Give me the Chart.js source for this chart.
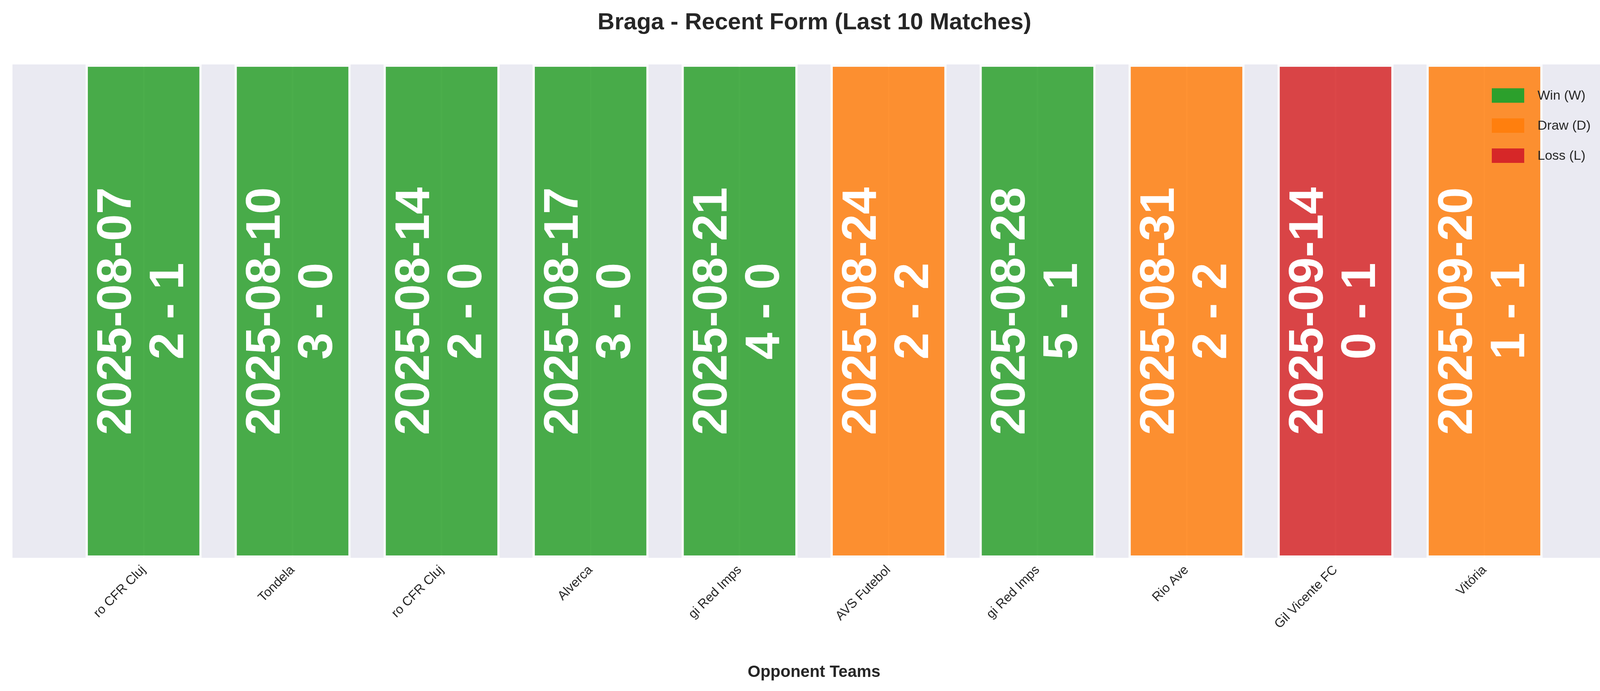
<!DOCTYPE html>
<html>
<head>
<meta charset="utf-8">
<script src="https://cdn.jsdelivr.net/npm/chart.js@4.4.0/dist/chart.umd.min.js"></script>
<style>
  body { margin: 0; background: #fff; }
</style>
</head>
<body>
<canvas id="chart" width="4170" height="1769"></canvas>
<script>
// Match data
const teams = ["ro CFR Cluj", "Tondela", "ro CFR Cluj", "Alverca", "gi Red Imps", "AVS Futebol", "gi Red Imps", "Rio Ave", "Gil Vicente FC", "Vitória"];
const dates = ["2025-08-07", "2025-08-10", "2025-08-14", "2025-08-17", "2025-08-21", "2025-08-24", "2025-08-28", "2025-08-31", "2025-09-14", "2025-09-20"];
const scores = ["2 - 1", "3 - 0", "2 - 0", "3 - 0", "4 - 0", "2 - 2", "5 - 1", "2 - 2", "0 - 1", "1 - 1"];
const results = ["W", "W", "W", "W", "W", "D", "W", "D", "L", "D"];

const resultColors = { W: "#2ca02c", D: "#ff7f0e", L: "#d62728" };
const resultAlpha = { W: "rgba(44,160,44,0.85)", D: "rgba(255,127,14,0.85)", L: "rgba(214,39,40,0.85)" };
const legendItems = [["Win (W)", "W"], ["Draw (D)", "D"], ["Loss (L)", "L"]];

const FONT = "'Liberation Sans', Arial, sans-serif";

// plot background + title
const backgroundPlugin = {
    id: 'bg',
    beforeDraw(chart) {
        const { ctx, chartArea } = chart;
        ctx.save();
        ctx.fillStyle = '#eaeaf2';
        ctx.fillRect(chartArea.left, chartArea.top, chartArea.right - chartArea.left, chartArea.bottom - chartArea.top);
        ctx.fillStyle = '#262626';
        ctx.font = "bold 60px " + FONT;
        ctx.textAlign = 'center';
        ctx.textBaseline = 'middle';
        ctx.fillText("Braga - Recent Form (Last 10 Matches)", chart.width / 2, 58);
        ctx.restore();
    }
};

// date / score text inside bars, and the legend
const labelPlugin = {
    id: 'labels',
    afterDatasetsDraw(chart) {
        const { ctx, chartArea } = chart;
        const meta = chart.getDatasetMeta(0);
        const yMid = (chartArea.top + chartArea.bottom) / 2;
        ctx.save();
        ctx.fillStyle = '#ffffff';
        ctx.font = "bold 124px " + FONT;
        ctx.textAlign = 'center';
        ctx.textBaseline = 'middle';
        meta.data.forEach((bar, i) => {
            ctx.save();
            ctx.translate(bar.x, yMid);
            ctx.rotate(-Math.PI / 2);
            ctx.fillText(dates[i], 0, -67);
            ctx.fillText(scores[i], 0, 67);
            ctx.restore();
        });

        // legend
        ctx.font = "34px " + FONT;
        ctx.textAlign = 'left';
        legendItems.forEach((item, i) => {
            const y = 244 + i * 77;
            ctx.fillStyle = resultColors[item[1]];
            ctx.fillRect(3819, y - 18, 83, 37);
            ctx.fillStyle = '#262626';
            ctx.fillText(item[0], 3936, y + 2);
        });
        ctx.restore();
    }
};

new Chart(document.getElementById('chart'), {
    type: 'bar',
    data: {
        datasets: [{
            data: teams.map((t, i) => ({ x: i, y: 1 })),
            backgroundColor: results.map(r => resultAlpha[r]),
            borderColor: 'rgba(255,255,255,0.75)',
            borderWidth: 6,
            borderSkipped: false,
            categoryPercentage: 1,
            barPercentage: 0.78
        }]
    },
    options: {
        responsive: false,
        devicePixelRatio: 1,
        animation: false,
        layout: { padding: { top: 165, left: 32, right: 34, bottom: 0 } },
        plugins: {
            legend: { display: false },
            tooltip: { enabled: false }
        },
        scales: {
            x: {
                type: 'linear',
                min: -0.88,
                max: 9.88,
                offset: false,
                afterBuildTicks(scale) {
                    scale.ticks = teams.map((t, i) => ({ value: i }));
                },
                afterFit(scale) {
                    scale.height = 1769 - 1428;
                },
                grid: { color: '#ffffff', lineWidth: 4, drawTicks: false, offset: false },
                border: { display: false },
                ticks: {
                    autoSkip: false,
                    minRotation: 45,
                    maxRotation: 45,
                    padding: 12,
                    color: '#262626',
                    font: { family: FONT, size: 33 },
                    callback: (v) => teams[v] ?? ''
                },
                title: {
                    display: true,
                    text: 'Opponent Teams',
                    color: '#262626',
                    font: { family: FONT, size: 42, weight: 'bold' },
                    padding: { top: 0, bottom: 22 }
                }
            },
            y: {
                min: 0,
                max: 1,
                display: false,
                grid: { display: false }
            }
        }
    },
    plugins: [backgroundPlugin, labelPlugin]
});
</script>
</body>
</html>
